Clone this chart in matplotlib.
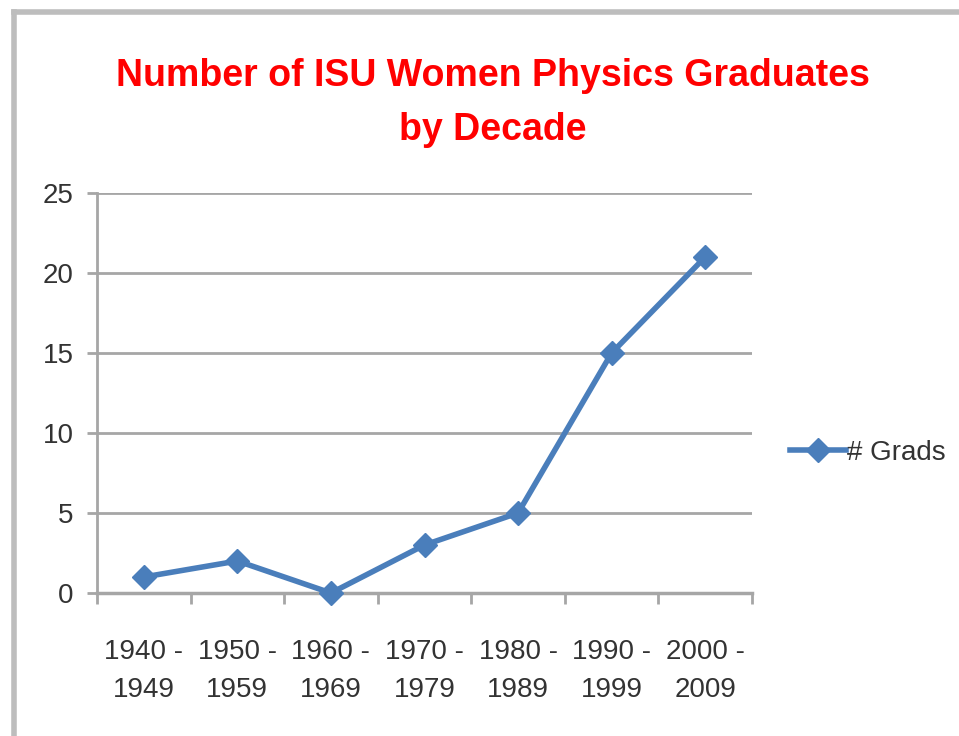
import matplotlib
matplotlib.use("Agg")
import matplotlib.pyplot as plt
from matplotlib.lines import Line2D

categories = ["1940 -\n1949", "1950 -\n1959", "1960 -\n1969", "1970 -\n1979",
              "1980 -\n1989", "1990 -\n1999", "2000 -\n2009"]
grads = [1, 2, 0, 3, 5, 15, 21]
yticks = [0, 5, 10, 15, 20, 25]
title = "Number of ISU Women Physics Graduates\nby Decade"
series_name = "# Grads"

FONT = ["Liberation Sans", "DejaVu Sans"]
plt.rcParams['font.family'] = FONT
blue = "#4A7EBB"
txt = "#333333"
grid = "#a6a6a6"

fig = plt.figure(figsize=(9.59, 7.36), dpi=100)
fig.patch.set_facecolor("white")

# outer chart border (gray, top and left visible)
fig.add_artist(Line2D([14/959, 1.0], [1-12/736, 1-12/736], color="#bdbdbd", lw=4, transform=fig.transFigure))
fig.add_artist(Line2D([14/959, 14/959], [0, 1-12/736], color="#bdbdbd", lw=4, transform=fig.transFigure))

ax = fig.add_axes([97/959, 143/736, 655/959, 400/736])
x = list(range(len(categories)))
ax.plot(x, grads, color=blue, lw=4, marker="D", markersize=12, label=series_name, clip_on=False, zorder=3)
ax.set_xlim(-0.5, len(categories) - 0.5)
ax.set_ylim(0, 25)
ax.set_yticks(yticks)
ax.set_yticklabels([str(v) for v in yticks], fontsize=20, color=txt)
ax.set_xticks(x)
ax.set_xticklabels(categories, fontsize=20, color=txt, linespacing=1.6)
ax.tick_params(axis="x", length=0, pad=33)
ax.tick_params(axis="y", length=7, width=2, color=grid, pad=10, direction="out")
# minor ticks at category boundaries
ax.set_xticks([i - 0.5 for i in range(len(categories) + 1)], minor=True)
ax.tick_params(axis="x", which="minor", length=8, width=2, color=grid, direction="out")
ax.grid(axis="y", color=grid, lw=2)
ax.set_axisbelow(True)
for s in ["top", "right"]:
    ax.spines[s].set_visible(False)
ax.spines["left"].set_color(grid)
ax.spines["left"].set_linewidth(2)
ax.spines["bottom"].set_color(grid)
ax.spines["bottom"].set_linewidth(2.5)

fig.text(493/959, 1-103/736, title, ha="center", va="center", fontsize=27,
         fontweight="bold", color="#ff0000", linespacing=1.65)

leg = fig.legend(loc="center left", bbox_to_anchor=(790/959, 1-453/736), frameon=False,
                 fontsize=20, handlelength=2.0, handletextpad=0.05, labelcolor=txt,
                 borderpad=0, borderaxespad=0)

fig.savefig("out.png", dpi=100)
